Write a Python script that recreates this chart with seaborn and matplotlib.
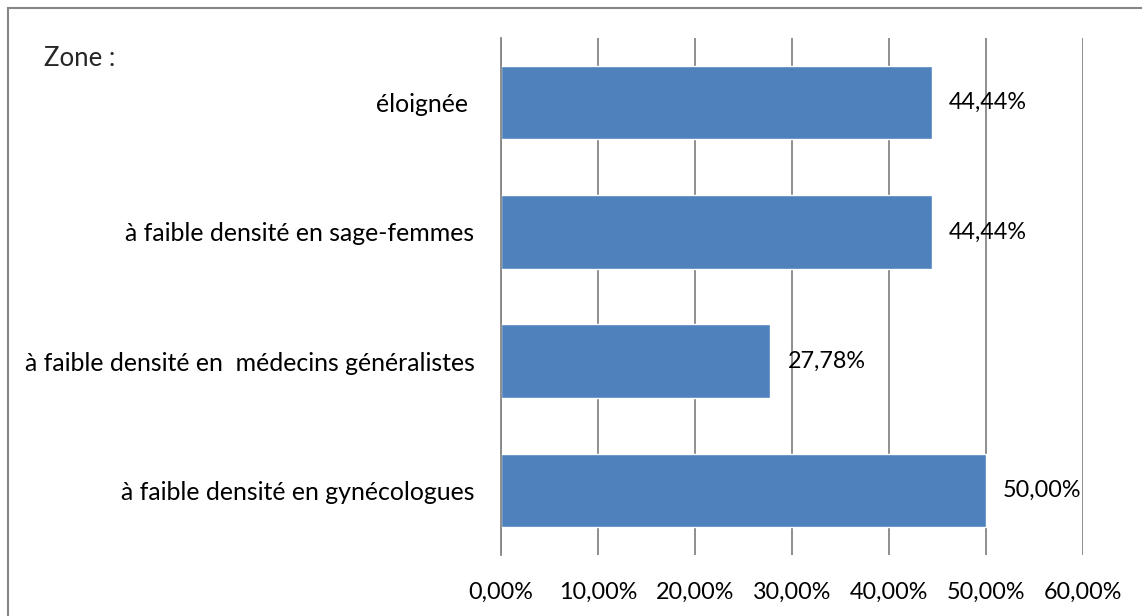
import pandas as pd
import seaborn as sns
import matplotlib.pyplot as plt
from matplotlib.patches import Rectangle
from matplotlib.ticker import FuncFormatter

# data
zones = ["éloignée ",
         "à faible densité en sage-femmes",
         "à faible densité en  médecins généralistes",
         "à faible densité en gynécologues"]
shares = [44.44, 44.44, 27.78, 50.00]

df = pd.DataFrame({"zone": zones, "share": shares})

sns.set_style("white")
plt.rcParams['font.family'] = ['Lato', 'DejaVu Sans']
fs_num = 16.8   # tick + data labels
fs_cat = 17.9   # category labels

fig = plt.figure(figsize=(11.42, 6.16), dpi=100)
ax = fig.add_axes([501 / 1142, 61 / 616, 582 / 1142, 517 / 616])

sns.barplot(data=df, x="share", y="zone", orient="h", color="#4F81BD",
            saturation=1, width=0.57, ax=ax)

ax.set_xlim(0, 60)
ax.set_xticks(range(0, 61, 10))
ax.xaxis.set_major_formatter(FuncFormatter(lambda v, p: f"{v:.2f}%".replace(".", ",")))
ax.grid(axis="x", color="#868686", linewidth=1.3)
ax.set_axisbelow(True)
for s in ["top", "right", "bottom"]:
    ax.spines[s].set_visible(False)
ax.spines["left"].set_color("#868686")
ax.spines["left"].set_linewidth(1.3)
ax.tick_params(axis="x", length=0, pad=19, labelsize=fs_num, colors="black")
ax.tick_params(axis="y", length=0, pad=19, labelsize=fs_cat, colors="black")
ax.set_xlabel("")
ax.set_ylabel("")

# data labels
for i, v in enumerate(shares):
    ax.text(v + 1.75, i, f"{v:.2f}%".replace(".", ","), va="center", ha="left",
            fontsize=fs_num, color="black")

fig.text(44 / 1142, 1 - 59 / 616, "Zone :", fontsize=18.5, va="center", ha="left")

# outer chart border (right and bottom fall outside the image)
fig.add_artist(Rectangle((8 / 1142, -0.1), 1.2, 1.1 - 8 / 616, transform=fig.transFigure,
                         fill=False, edgecolor="#868686", linewidth=1.5))

fig.savefig("out.png", dpi=100)
